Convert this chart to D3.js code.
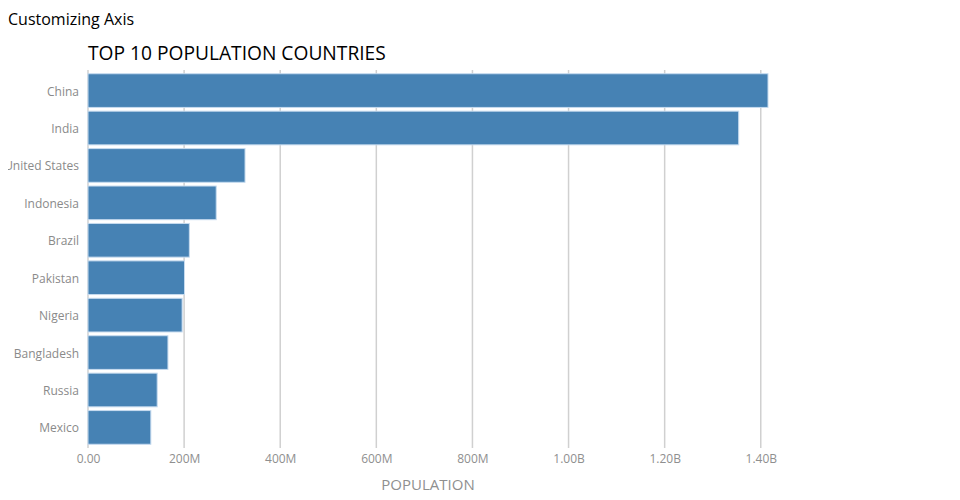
<!DOCTYPE html>
<html>
<head>
<meta charset="utf-8">
<script src="https://d3js.org/d3.v7.min.js"></script>
<style>
  body { margin: 0; background: #fff; font-family: "Open Sans", sans-serif; }
  svg { position: absolute; left: 8px; top: 0; overflow: hidden; }
</style>
</head>
<body>
<svg id="chart" width="952" height="500"></svg>
<script>
const countries = ["China", "India", "United States", "Indonesia", "Brazil", "Pakistan", "Nigeria", "Bangladesh", "Russia", "Mexico"];
const population = [1415045928, 1354051854, 326766748, 266794980, 210867954, 200813818, 195875237, 166368149, 143964709, 130759074];
const xTicks = [0, 200e6, 400e6, 600e6, 800e6, 1000e6, 1200e6, 1400e6];

const svg = d3.select("#chart").append("g").attr("transform", "translate(-8,0)");
const mLeft = 88, mRight = 768, mTop = 70, mBottom = 448;

const x = d3.scaleLinear().domain([0, d3.max(population)]).range([mLeft, mRight]);
const y = d3.scaleBand().domain(countries).range([mTop, mBottom]).padding(0.1);

const fmt = v => v === 0 ? "0.00" : (v >= 1e9 ? d3.format(".2f")(v / 1e9) + "B" : d3.format("d")(v / 1e6) + "M");

svg.append("text").attr("x", 8).attr("y", 25)
  .style("font-family", "Open Sans").style("font-size", "16px").attr("fill", "#000")
  .text("Customizing Axis");
svg.append("text").attr("x", mLeft).attr("y", 60)
  .style("font-family", "Open Sans").style("font-size", "19.2px").attr("fill", "#000")
  .text("TOP 10 POPULATION COUNTRIES");

svg.append("g").selectAll("line").data(xTicks).join("line")
  .attr("x1", d => x(d)).attr("x2", d => x(d))
  .attr("y1", mTop).attr("y2", mBottom)
  .attr("stroke", "#d0d0d0").attr("stroke-width", 1.5);

svg.append("g").selectAll("rect").data(countries).join("rect")
  .attr("x", x(0))
  .attr("y", d => y(d))
  .attr("width", (d, i) => x(population[i]) - x(0))
  .attr("height", y.bandwidth())
  .attr("fill", "#4682b4")
  .attr("stroke", "#c6dbef").attr("stroke-width", 1);

const xAxis = d3.axisBottom(x).tickValues(xTicks).tickFormat(fmt).tickSize(0).tickPadding(6.5);
const gx = svg.append("g").attr("transform", `translate(0,${mBottom})`).call(xAxis);
gx.select(".domain").remove();
gx.selectAll("text").style("font-family", "Open Sans").style("font-size", "12px").attr("fill", "#8f8f8f");

const yAxis = d3.axisLeft(y).tickSize(0).tickPadding(9);
const gy = svg.append("g").attr("transform", `translate(${mLeft},0)`).call(yAxis);
gy.select(".domain").remove();
gy.selectAll("text").style("font-family", "Open Sans").style("font-size", "12px").attr("fill", "#8a8a8a").attr("dy", "0.42em");

svg.append("text").attr("x", (mLeft + mRight) / 2).attr("y", 490)
  .attr("text-anchor", "middle")
  .style("font-family", "Open Sans").style("font-size", "15px").attr("fill", "#8f8f8f")
  .text("POPULATION");
</script>
</body>
</html>
